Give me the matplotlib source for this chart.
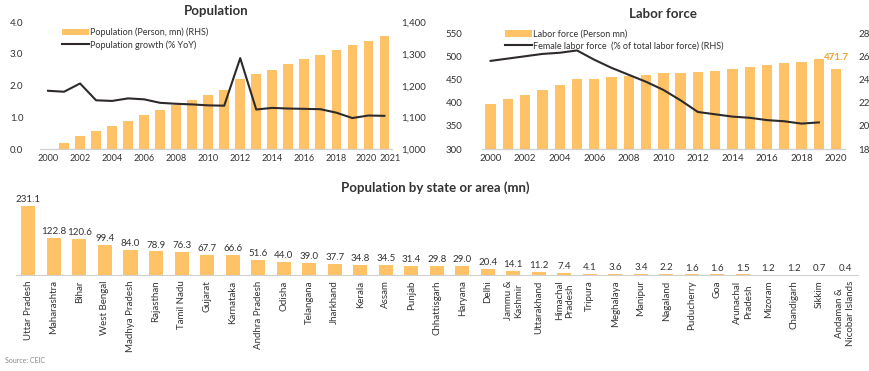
import numpy as np
import matplotlib.pyplot as plt
import matplotlib as mpl
from matplotlib.ticker import FuncFormatter
from matplotlib.transforms import ScaledTranslation

settings = {"font.family": ["Lato", "DejaVu Sans"],
            "font.size": 7,
            "text.color": "#333333",
            "xtick.color": "#333333",
            "ytick.color": "#333333",
            }
mpl.rcParams.update(settings)

bar_col = '#FFC266'
line_col = '#2E2A2B'
base_col = '#D0D0D0'

# population chart
pop_years = list(range(2000, 2022))
pop_mn = [1002, 1020, 1041, 1057, 1072, 1089, 1107, 1122, 1140, 1155, 1171,
          1186, 1221, 1236, 1251, 1268, 1283, 1298, 1314, 1328, 1340, 1356]
pop_growth = [1.84, 1.81, 2.07, 1.54, 1.52, 1.60, 1.57, 1.46, 1.43, 1.41, 1.38,
              1.37, 2.87, 1.25, 1.30, 1.28, 1.27, 1.26, 1.15, 0.98, 1.06, 1.05]
pop_xticks = [2000, 2002, 2004, 2006, 2008, 2010, 2012, 2014, 2016, 2018, 2020, 2021]

# labor force chart
lab_years = list(range(2000, 2021))
lab_force = [397, 407, 417, 428, 438, 450, 452, 455, 458, 460, 463, 464, 466,
             469, 473, 477, 482, 485, 488, 494, 471.7]
fem_years = list(range(2000, 2020))
fem_share = [25.6, 25.8, 26.0, 26.2, 26.3, 26.5, 25.7, 25.0, 24.4, 23.8, 23.1,
             22.2, 21.2, 21.0, 20.8, 20.7, 20.5, 20.4, 20.2, 20.3]

# states
states = ['Uttar Pradesh', 'Maharashtra', 'Bihar', 'West Bengal', 'Madhya Pradesh',
          'Rajasthan', 'Tamil Nadu', 'Gujarat', 'Karnataka', 'Andhra Pradesh',
          'Odisha', 'Telangana', 'Jharkhand', 'Kerala', 'Assam', 'Punjab',
          'Chhattisgarh', 'Haryana', 'Delhi', 'Jammu &\nKashmir', 'Uttarakhand',
          'Himachal\nPradesh', 'Tripura', 'Meghalaya', 'Manipur', 'Nagaland',
          'Puducherry', 'Goa', 'Arunachal\nPradesh', 'Mizoram', 'Chandigarh',
          'Sikkim', 'Andaman &\nNicobar Islands']
state_pop = [231.1, 122.8, 120.6, 99.4, 84.0, 78.9, 76.3, 67.7, 66.6, 51.6,
             44.0, 39.0, 37.7, 34.8, 34.5, 31.4, 29.8, 29.0, 20.4, 14.1, 11.2,
             7.4, 4.1, 3.6, 3.4, 2.2, 1.6, 1.6, 1.5, 1.2, 1.2, 0.7, 0.4]

fig = plt.figure(figsize=(8.7, 3.71), dpi=100)


def clean(a, keep_bottom=True):
    for s in a.spines.values():
        s.set_visible(False)
    if keep_bottom:
        a.spines['bottom'].set_visible(True)
        a.spines['bottom'].set_color(base_col)
    a.tick_params(length=0, labelsize=7)


# ---- Population ----
ax1 = fig.add_axes([0.046, 0.598, 0.405, 0.342])
ax1r = ax1.twinx()
b1 = ax1r.bar(pop_years, pop_mn, width=0.6, color=bar_col,
              label='Population (Person, mn) (RHS)')
l1, = ax1.plot(pop_years, pop_growth, color=line_col, lw=1.5,
               label='Population growth (% YoY)')
ax1.set_zorder(ax1r.get_zorder() + 1)
ax1.patch.set_visible(False)
ax1.set_ylim(0, 4)
ax1.set_yticks([0, 1, 2, 3, 4])
ax1.yaxis.set_major_formatter(FuncFormatter(lambda v, p: f'{v:.1f}'))
ax1r.set_ylim(1000, 1400)
ax1r.set_yticks([1000, 1100, 1200, 1300, 1400])
ax1r.yaxis.set_major_formatter(FuncFormatter(lambda v, p: f'{int(v):,}'))
ax1.set_xlim(1999.5, 2021.5)
ax1.set_xticks(pop_xticks)
clean(ax1)
clean(ax1r)
ax1.tick_params(axis='x', labelsize=6.6)
ax1.tick_params(axis='y', pad=12)
ax1r.tick_params(axis='y', pad=6)
xt = ax1.get_xticklabels()
xt[-2].set_transform(xt[-2].get_transform() + ScaledTranslation(-2 / 100, 0, fig.dpi_scale_trans))
xt[-1].set_transform(xt[-1].get_transform() + ScaledTranslation(6 / 100, 0, fig.dpi_scale_trans))
ax1.set_title('Population', fontsize=9.5, fontweight='bold', pad=5)
ax1.legend([b1, l1], [b1.get_label(), l1.get_label()], loc='upper left',
           bbox_to_anchor=(0.04, 1.02), frameon=False, fontsize=6.5,
           handlelength=3, handletextpad=0.1, labelspacing=0.3)

# ---- Labor force ----
ax2 = fig.add_axes([0.554, 0.598, 0.417, 0.313])
ax2r = ax2.twinx()
b2 = ax2.bar(lab_years, lab_force, width=0.6, color=bar_col,
             label='Labor force (Person mn)')
l2, = ax2r.plot(fem_years, fem_share, color=line_col, lw=1.5,
                label='Female labor force  (% of total labor force) (RHS)')
ax2.set_ylim(300, 550)
ax2.set_yticks(range(300, 551, 50))
ax2r.set_ylim(18, 28)
ax2r.set_yticks(range(18, 29, 2))
ax2.set_xlim(1999.5, 2020.5)
ax2.set_xticks(range(2000, 2021, 2))
clean(ax2)
clean(ax2r)
ax2.tick_params(axis='y', pad=14)
ax2r.tick_params(axis='y', pad=10)
ax2.set_title('Labor force', fontsize=9.5, fontweight='bold', pad=11)
ax2.annotate(f'{lab_force[-1]:.1f}', (lab_years[-1], lab_force[-1]),
             xytext=(0, 5), textcoords='offset points', ha='center', va='bottom',
             color='#F0A030', fontweight='bold', fontsize=7)
ax2.legend([b2, l2], [b2.get_label(), l2.get_label()], loc='upper left',
           bbox_to_anchor=(0.04, 1.1), frameon=False, fontsize=6.5,
           handlelength=3, handletextpad=0.1, labelspacing=0.3)

# ---- States ----
ax3 = fig.add_axes([0.018, 0.259, 0.968, 0.209])
x = np.arange(len(states))
ax3.bar(x, state_pop, width=0.55, color=bar_col)
for xi, v in zip(x, state_pop):
    ax3.text(xi, v + 6, f'{v:.1f}', ha='center', va='bottom', fontsize=7)
ax3.set_xlim(-0.5, len(states) - 0.5)
ax3.set_ylim(0, 260)
ax3.set_yticks([])
ax3.set_xticks(x)
ax3.set_xticklabels(states, rotation=90, fontsize=7, ma='center')
clean(ax3)
ax3.tick_params(axis='x', pad=4)
fig.text(0.5, 0.495, 'Population by state or area (mn)', ha='center', va='center',
         fontsize=9.5, fontweight='bold')

fig.text(0.006, 0.022, 'Source: CEIC', fontsize=5, color='#888888')

plt.savefig('out.png', dpi=100)
